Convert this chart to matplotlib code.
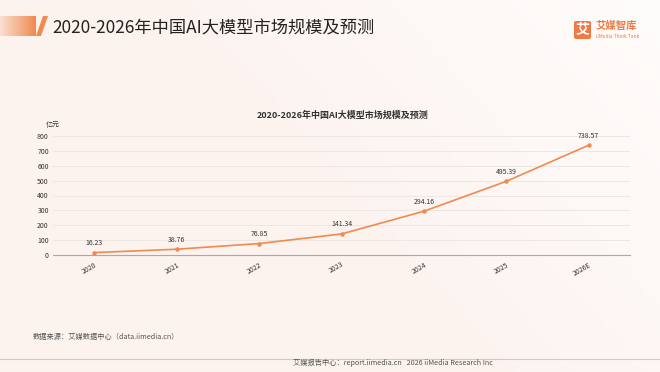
import matplotlib.pyplot as plt
import numpy as np
from matplotlib.patches import Polygon, FancyBboxPatch

plt.rcParams['font.family'] = ['Noto Sans CJK SC', 'DejaVu Sans']

# 数据
years = ["2020", "2021", "2022", "2023", "2024", "2025", "2026E"]
market = [16.23, 38.76, 76.85, 141.34, 294.16, 495.39, 738.57]
yticks = [0, 100, 200, 300, 400, 500, 600, 700, 800]

orange = "#ef8a50"

fig = plt.figure(figsize=(6.6, 3.72), dpi=100)
fig.patch.set_facecolor("#fcf4f1")

# 背景渐变
bg = fig.add_axes([0, 0, 1, 1], zorder=-5)
xx, yy = np.meshgrid(np.linspace(0, 1, 200), np.linspace(0, 1, 120))
g = np.clip((xx - 0.55) * 1.2 + (yy - 0.3) * 0.6, 0, 1)
c0 = np.array([252, 243, 239]) / 255
c1 = np.array([255, 253, 252]) / 255
img = c0[None, None, :] * (1 - g[..., None]) + c1[None, None, :] * g[..., None]
bg.imshow(img, extent=[0, 1, 0, 1], aspect="auto", origin="lower")
bg.set_xlim(0, 1)
bg.set_ylim(0, 1)
bg.axis("off")

# 页眉
grad = np.linspace(0.35, 1, 100)[None, :]
hdr = fig.add_axes([0, 1 - 36 / 372, 36 / 660, 20 / 372], zorder=-1)
hdr.imshow(grad, cmap=plt.matplotlib.colors.LinearSegmentedColormap.from_list(
    "o", ["#fbe0d2", "#f08a50"]), aspect="auto", extent=[0, 1, 0, 1])
hdr.axis("off")
fig.patches.append(Polygon([[36 / 660, 1 - 36 / 372], [41 / 660, 1 - 36 / 372],
                            [48 / 660, 1 - 16 / 372], [43 / 660, 1 - 16 / 372]],
                           closed=True, transform=fig.transFigure,
                           facecolor="#f08a50", edgecolor="none"))
fig.text(52 / 660, 1 - 28 / 372, "2020-2026年中国AI大模型市场规模及预测",
         fontsize=12.4, color="#222222", va="center", ha="left")

# 标志
fig.patches.append(FancyBboxPatch((574 / 660, 1 - 39 / 372), 17 / 660, 18 / 372,
                                  boxstyle="round,pad=0,rounding_size=0.004",
                                  transform=fig.transFigure,
                                  facecolor="#f07a45", edgecolor="none"))
fig.text(582.5 / 660, 1 - 30 / 372, "艾", fontsize=10, color="white",
         ha="center", va="center", fontweight="bold")
fig.text(596 / 660, 1 - 26 / 372, "艾媒智库", fontsize=7.5, color="#f07a45",
         ha="left", va="center", fontweight="bold")
fig.text(596 / 660, 1 - 36 / 372, "iiMedia Think Tank", fontsize=3.5,
         color="#f07a45", ha="left", va="center")

# 主图
ax = fig.add_axes([53 / 660, 1 - 255 / 372, 577 / 660, 119 / 372])
ax.set_facecolor("none")
x = np.arange(len(years))
ax.plot(x, market, color=orange, lw=1.2, marker="o", ms=2.2, zorder=3)
for xi, v in zip(x, market):
    ax.annotate(f"{v:.2f}", (xi, v), xytext=(0, 4), textcoords="offset points",
                ha="center", va="bottom", fontsize=5, color="#333333")
ax.set_xlim(-0.5, len(years) - 0.5)
ax.set_ylim(0, 800)
ax.set_yticks(yticks)
ax.set_xticks(x)
ax.set_xticklabels(years, rotation=30, fontsize=5, color="#333333",
                   ha="right", rotation_mode="anchor")
ax.tick_params(axis="y", labelsize=5, labelcolor="#333333", length=0, pad=3)
ax.tick_params(axis="x", length=0, pad=4)
ax.grid(axis="y", color="#e9e4e2", lw=0.6)
ax.set_axisbelow(True)
for s in ["top", "right", "left"]:
    ax.spines[s].set_visible(False)
ax.spines["bottom"].set_color("#aaaaaa")
ax.spines["bottom"].set_linewidth(0.8)
ax.text(0, 1.09, "亿元", transform=ax.transAxes, fontsize=5,
        color="#333333", ha="center", va="center")

fig.text(343 / 660, 1 - 115 / 372, "2020-2026年中国AI大模型市场规模及预测",
         fontsize=6.5, fontweight="bold", color="#333333", ha="center", va="center")

# 页脚
fig.text(33 / 660, 1 - 337 / 372, "数据来源：艾媒数据中心（data.iimedia.cn）",
         fontsize=5.2, color="#555555", ha="left", va="center")
fig.add_artist(plt.Line2D([0, 1], [1 - 359 / 372] * 2, color="#cccccc", lw=0.8,
                          transform=fig.transFigure))
fig.text(493 / 660, 1 - 363 / 372,
         "艾媒报告中心：report.iimedia.cn   2026 iiMedia Research Inc",
         fontsize=5.2, color="#555555", ha="right", va="center")

fig.savefig("out.png", dpi=100, facecolor=fig.get_facecolor())
